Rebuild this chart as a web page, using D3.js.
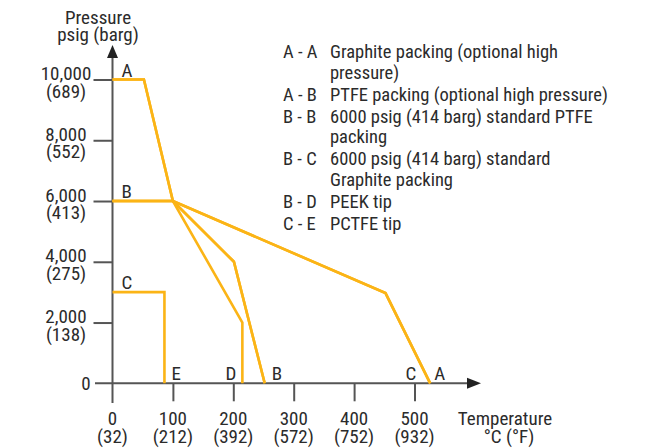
<!DOCTYPE html>
<html>
<head>
<meta charset="utf-8">
<script src="https://cdn.jsdelivr.net/npm/d3@7"></script>
<style>
  body { margin: 0; background: #fff; }
  svg text { font-family: "Liberation Sans Narrow", "Roboto Condensed", "DejaVu Sans Condensed", "Liberation Sans", sans-serif; fill: #2b2b2b; }
</style>
</head>
<body>
<div id="chart"></div>
<script>
// pressure / temperature ratings
var xTicks = [100, 200, 300, 400, 500],
    xTickF = ["(212)", "(392)", "(572)", "(752)", "(932)"],
    yTicks = [2000, 4000, 6000, 8000, 10000],
    yTickLabels = ["2,000", "4,000", "6,000", "8,000", "10,000"],
    yTickBarg = ["(138)", "(275)", "(413)", "(552)", "(689)"];

// each curve: [temperature °C, pressure psig]
var curveAA = [[0, 10000], [52, 10000], [100, 6000], [452, 2970], [526, 0]],
    curveAB = [[0, 10000], [52, 10000], [100, 6000], [201, 4000], [252, 0]],
    curveBB = [[0, 6000], [100, 6000], [201, 4000], [252, 0]],
    curveBC = [[0, 6000], [100, 6000], [452, 2970], [526, 0]],
    curveBD = [[0, 6000], [100, 6000], [215, 2000], [215, 0]],
    curveCE = [[0, 3000], [86, 3000], [86, 0]];
var curves = [curveAA, curveAB, curveBB, curveBC, curveBD, curveCE];

// start / end letters
var startLetters = [["A", 10000], ["B", 6000], ["C", 3000]],
    endLetters = [["E", 86], ["D", 215], ["B", 252], ["C", 526], ["A", 526]];
// nudge of each end letter from its curve end (px), negative = left of it
var endNudge = [7, -6, 7, -14, 4];

var legendKeys = ["A - A", "A - B", "B - B", "B - C", "B - D", "C - E"],
    legendText = [
        ["Graphite packing (optional high", "pressure)"],
        ["PTFE packing (optional high pressure)"],
        ["6000 psig (414 barg) standard PTFE", "packing"],
        ["6000 psig (414 barg) standard", "Graphite packing"],
        ["PEEK tip"],
        ["PCTFE tip"]
    ];

var width = 653, height = 448;
var svg = d3.select("#chart").append("svg").attr("width", width).attr("height", height);

var x = d3.scaleLinear().domain([0, 500]).range([112.5, 414.5]),
    y = d3.scaleLinear().domain([0, 10000]).range([383.3, 79.5]);

var axisColor = "#555",
    lineColor = "#fbb416",
    fs = 19;

// axes lines
var x0 = x(0), y0 = y(0);
svg.append("line").attr("x1", x0).attr("x2", x0).attr("y1", 56).attr("y2", 403)
    .attr("stroke", axisColor).attr("stroke-width", 2);
svg.append("line").attr("x1", 95).attr("x2", 468).attr("y1", y0).attr("y2", y0)
    .attr("stroke", axisColor).attr("stroke-width", 2);
svg.append("path").attr("d", "M" + x0 + ",45L" + (x0 - 5.5) + ",58L" + (x0 + 5.5) + ",58Z").attr("fill", "#222");
svg.append("path").attr("d", "M481," + y0 + "L467," + (y0 - 5.5) + "L467," + (y0 + 5.5) + "Z").attr("fill", "#222");

// ticks via d3 axes
var xAxis = svg.append("g").attr("transform", "translate(0," + y0 + ")")
    .call(d3.axisBottom(x).tickValues(xTicks).tickSize(18).tickFormat(""));
var yAxis = svg.append("g").attr("transform", "translate(" + x0 + ",0)")
    .call(d3.axisLeft(y).tickValues(yTicks).tickSize(19).tickFormat(""));
[xAxis, yAxis].forEach(function (a) {
    a.select(".domain").remove();
    a.selectAll(".tick line").attr("stroke", axisColor).attr("stroke-width", 2);
});

// y tick labels (psig / barg)
yTicks.forEach(function (v, i) {
    var t = svg.append("text").attr("text-anchor", "middle").attr("font-size", fs);
    t.append("tspan").attr("x", 66).attr("y", y(v) + 0.5).text(yTickLabels[i]);
    t.append("tspan").attr("x", 66).attr("y", y(v) + 18).text(yTickBarg[i]);
});
svg.append("text").attr("x", 86).attr("y", y0 + 7).attr("text-anchor", "middle").attr("font-size", fs).text("0");

// x tick labels (°C / °F)
[0].concat(xTicks).forEach(function (v, i) {
    var t = svg.append("text").attr("text-anchor", "middle").attr("font-size", fs);
    t.append("tspan").attr("x", x(v)).attr("y", 425).text(v);
    t.append("tspan").attr("x", x(v)).attr("y", 443).text(i === 0 ? "(32)" : xTickF[i - 1]);
});

// axis titles
var tt = svg.append("text").attr("text-anchor", "middle").attr("font-size", fs);
tt.append("tspan").attr("x", 505).attr("y", 425).text("Temperature");
tt.append("tspan").attr("x", 509).attr("y", 443).text("°C (°F)");
var pt = svg.append("text").attr("text-anchor", "middle").attr("font-size", fs);
pt.append("tspan").attr("x", 98).attr("y", 24).text("Pressure");
pt.append("tspan").attr("x", 98).attr("y", 41).text("psig (barg)");

// curves
var line = d3.line().x(function (d) { return x(d[0]); }).y(function (d) { return y(d[1]); });
svg.append("g").selectAll("path").data(curves).enter().append("path")
    .attr("d", line)
    .attr("fill", "none")
    .attr("stroke", lineColor)
    .attr("stroke-width", 2.6)
    .attr("stroke-linejoin", "miter");

// letters on curves
startLetters.forEach(function (d) {
    svg.append("text").attr("x", x(0) + 9).attr("y", y(d[1]) - 3).attr("font-size", fs).text(d[0]);
});
endLetters.forEach(function (d, i) {
    var n = endNudge[i];
    svg.append("text")
        .attr("x", x(d[1]) + n)
        .attr("y", y0 - 3)
        .attr("text-anchor", n < 0 ? "end" : "start")
        .attr("font-size", fs)
        .text(d[0]);
});

// legend
var ly = 58;
legendKeys.forEach(function (k, i) {
    svg.append("text").attr("x", 283).attr("y", ly).attr("font-size", 18.5).text(k);
    legendText[i].forEach(function (s, j) {
        svg.append("text").attr("x", 330).attr("y", ly + j * 20.5).attr("font-size", 18.5).text(s);
    });
    ly += legendText[i].length * 20.5 + 1.5;
});
</script>
</body>
</html>
